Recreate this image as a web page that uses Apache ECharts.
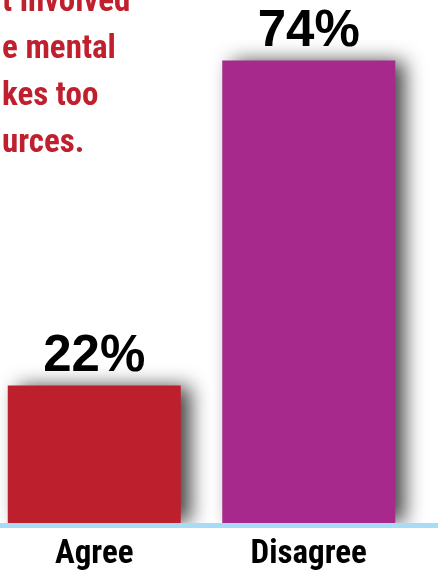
<!DOCTYPE html>
<html>
<head>
<meta charset="utf-8">
<script src="https://cdn.jsdelivr.net/npm/echarts@6/dist/echarts.min.js"></script>
<style>
  html, body { margin: 0; padding: 0; background: #fff; }
  #chart { width: 438px; height: 573px; }
</style>
</head>
<body>
<div id="chart"></div>
<script>
// answers (reference is cropped, so the question text is only partly visible)
var categories = ['Agree', 'Disagree'];
var values = [22, 74];
var questionLines = ['t involved', 'e mental', 'kes too', 'urces.'];

var barColors = ['#be1f2d', '#a7298c'];
var condensed = '"Roboto Condensed", "Open Sans Condensed", sans-serif';

var dom = document.getElementById('chart');
var myChart = echarts.init(dom);

option = {
    animation: false,
    title: {
        text: questionLines.join('\n'),
        left: -3,
        top: -26,
        textStyle: {
            color: '#c01f2e',
            fontFamily: condensed,
            fontWeight: 'bold',
            fontSize: 33,
            lineHeight: 47
        }
    },
    grid: {
        left: -13,
        width: 429,
        top: 23,
        bottom: 50,
        outerBoundsMode: 'none',
        containLabel: false
    },
    xAxis: {
        type: 'category',
        data: categories,
        z: 20,
        axisLine: { show: false },
        axisTick: { show: false },
        axisLabel: {
            margin: 15,
            color: '#000',
            fontFamily: condensed,
            fontWeight: 'bold',
            fontSize: 33
        }
    },
    yAxis: {
        type: 'value',
        min: 0,
        max: 80,
        show: false
    },
    series: [{
        type: 'bar',
        data: values,
        barWidth: 173,
        itemStyle: {
            color: function (p) { return barColors[p.dataIndex]; },
            shadowColor: 'rgba(0,0,0,0.75)',
            shadowBlur: 19,
            shadowOffsetX: 10,
            shadowOffsetY: 0
        },
        label: {
            show: true,
            position: 'top',
            distance: 3,
            formatter: '{c}%',
            color: '#000',
            fontFamily: '"Liberation Sans", Arial, sans-serif',
            fontWeight: 'bold',
            fontSize: 51
        }
    }],
    graphic: [{
        // white ground under the baseline hides the bar shadows there
        type: 'rect',
        left: 0,
        top: 528,
        shape: { width: 438, height: 45 },
        style: { fill: '#fff' },
        z: 10
    }, {
        type: 'rect',
        left: 0,
        top: 523,
        shape: { width: 438, height: 5 },
        style: { fill: '#a6dcf5' },
        z: 10
    }]
};

myChart.setOption(option);
</script>
</body>
</html>
